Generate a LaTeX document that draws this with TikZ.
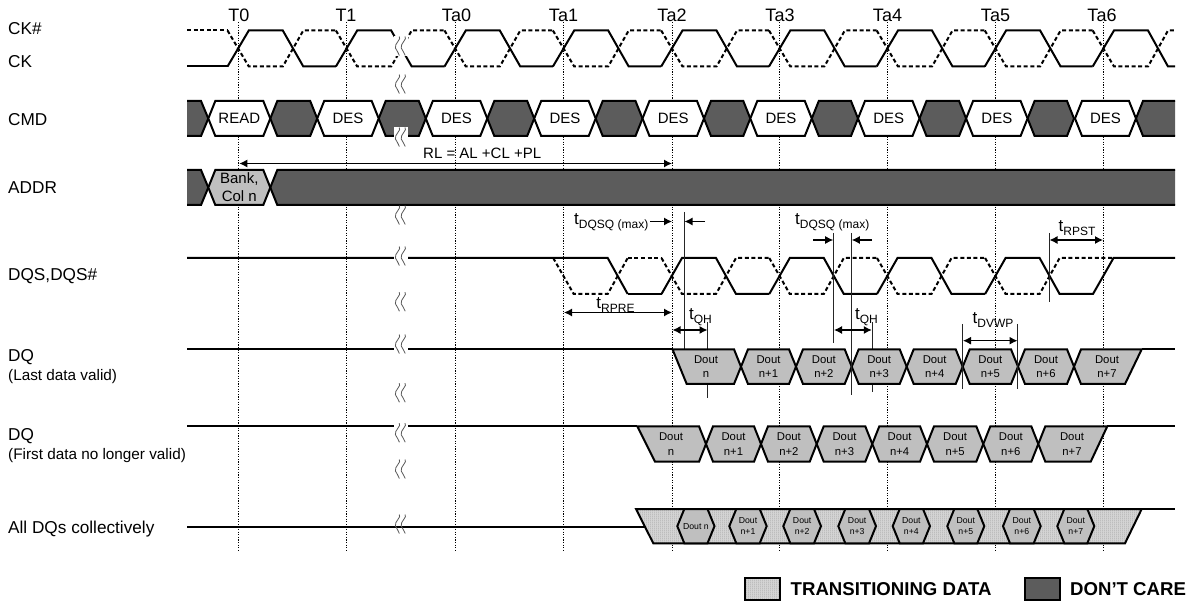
\documentclass[tikz,border=0pt]{standalone}
\usepackage{fontspec}
\setmainfont{Liberation Sans}
\usetikzlibrary{arrows.meta,patterns}
\pgfdeclarepatternformonly{fineV}{\pgfqpoint{0pt}{0pt}}{\pgfqpoint{2pt}{2pt}}{\pgfqpoint{2pt}{2pt}}{%
  \pgfsetlinewidth{0.8pt}\pgfpathmoveto{\pgfqpoint{1pt}{0pt}}\pgfpathlineto{\pgfqpoint{1pt}{2pt}}\pgfusepath{stroke}}
\definecolor{doutgray}{HTML}{BFBFBF}
\definecolor{dcgray}{HTML}{5C5C5C}
\tikzset{
  sig/.style={line width=2pt,line join=miter,draw=black},
  dashsig/.style={sig,dash pattern=on 4pt off 2.6pt},
  gridline/.style={line width=1pt,dash pattern=on 1.3pt off 1.3pt,draw=black},
  dontcare/.style={sig,fill=dcgray},
  transit/.style={sig,preaction={fill=black!17},pattern=fineV,pattern color=black!30},
  whitebox/.style={sig,fill=white},
  graybox/.style={sig,fill=doutgray},
  marker/.style={line width=1pt,draw=black!85},
  dim/.style={line width=1.2pt,draw=black,-{Latex[length=8pt,width=8pt]}},
  dimboth/.style={line width=1.2pt,draw=black,{Latex[length=8pt,width=8pt]}-{Latex[length=8pt,width=8pt]}},
  lbl/.style={anchor=west,inner sep=0pt,font=\fontsize{17.2}{19}\selectfont},
  sublbl/.style={anchor=west,inner sep=0pt,font=\fontsize{15.3}{17}\selectfont},
  tlbl/.style={inner sep=0pt,font=\fontsize{18}{20}\selectfont},
  cmdlbl/.style={inner sep=0pt,font=\fontsize{15}{17}\selectfont},
  doutlbl/.style={inner sep=0pt,align=center,font=\fontsize{11.3}{14.6}\selectfont},
  smalllbl/.style={inner sep=0pt,align=center,font=\fontsize{8.7}{11.5}\selectfont},
  dimlbl/.style={inner sep=0pt},
  leglbl/.style={anchor=west,inner sep=0pt,font=\fontsize{18.6}{20}\selectfont\bfseries},
}
\newcommand{\tsb}[1]{{\fontsize{17}{19}\selectfont t}{\fontsize{12}{14}\selectfont\raisebox{-4.5pt}{#1}}}
% break mark: two wavy strokes centred on (x,y)
\newcommand{\brkmark}[2]{%
  \foreach \dd in {-2.9,2.9}{
    \draw[line width=0.8pt,draw=black!65] (#1+\dd+1.4,#2-9.5) .. controls (#1+\dd+4.2,#2-7) and (#1+\dd-3.6,#2-2.5) .. (#1+\dd-2.4,#2+2)
      .. controls (#1+\dd-1.8,#2+5) and (#1+\dd+1.2,#2+6) .. (#1+\dd+1.6,#2+9.5);
  }}
% white gap plus a break mark
\newcommand{\brkgap}[2]{\fill[white] (394,#2-10) rectangle (408,#2+10); \brkmark{#1}{#2}}
% hexagon between crossing points #2,#3 ; rows #4 #5
\newcommand{\hexa}[7]{%
  \path[#1] ({#2},{(#4+#5)/2}) -- ({#2+7},#4) -- ({#3-7},#4) -- ({#3},{(#4+#5)/2}) -- ({#3-7},#5) -- ({#2+7},#5) -- cycle;
  \node[#6] (#7) at ({(#2+#3)/2},{(#4+#5)/2}) }
\begin{document}
\begin{tikzpicture}[x=1pt,y=-1pt]
\useasboundingbox (0,0) rectangle (1192,601);
\def\tgrid{238.3/T0/239,346.7/T1/346,455.3/Ta0/456.5,563.7/Ta1/563.5,672/Ta2/672,779.8/Ta3/780,887.5/Ta4/887.5,995.6/Ta5/995.5,1103.5/Ta6/1102}
% grid lines and clock labels
\foreach \gx/\gt/\lx [count=\gi] in \tgrid {
  \coordinate (gtop\gi) at (\gx,22);
  \coordinate (gbot\gi) at (\gx,551);
  \draw[gridline] (gtop\gi) -- (gbot\gi);
  \node[tlbl] (clk\gi) at (\lx,15) {\gt};
}
% signal names
\node[lbl] (nCKb) at (8,28.5) {CK\#};
\node[lbl] (nCK) at (8,62) {CK};
\node[lbl] (nCMD) at (8,120) {CMD};
\node[lbl] (nADDR) at (8,188) {ADDR};
\node[lbl] (nDQS) at (8,276) {DQS,DQS\#};
\node[lbl] (nDQa) at (8,357) {DQ};
\node[sublbl] (nDQas) at (8,377) {(Last data valid)};
\node[lbl] (nDQb) at (8,436) {DQ};
\node[sublbl] (nDQbs) at (8,456) {(First data no longer valid)};
\node[lbl] (nAll) at (8,529) {All DQs collectively};
% CK and CK#
\draw[sig] (187,66.5) -- (227.5,66.5);
\draw[dashsig] (187,30.5) -- (227.5,30.5);
\foreach \ta/\tb in {238.3/346.7,346.7/455.3,455.3/563.7,563.7/672,672/779.8,779.8/887.5,887.5/995.6,995.6/1103.5}{
  \draw[sig] (\ta-10.8,66.5) -- (\ta+10.5,30.5) -- (\ta+44.5,30.5) -- (\ta+65,66.5) -- (\tb-10.8,66.5);
  \draw[dashsig] (\ta-10.8,30.5) -- (\ta+10.5,66.5) -- (\ta+44.5,66.5) -- (\ta+65,30.5) -- (\tb-10.8,30.5);
}
\draw[sig] (1092.7,66.5) -- (1114,30.5) -- (1148,30.5) -- (1168,66.5) -- (1175,66.5);
\draw[dashsig] (1092.7,30.5) -- (1114,66.5) -- (1148,66.5) -- (1168,30.5) -- (1175,30.5);
% CMD
\path[dontcare] (187,101) -- (201,101) -- (208.3,118.5) -- (201,136) -- (187,136);
\foreach \tp/\ta in {238.3/346.7,346.7/455.3,455.3/563.7,563.7/672,672/779.8,779.8/887.5,887.5/995.6,995.6/1103.5}{
  \path[dontcare] (\tp+32,118.5) -- (\tp+39,101) -- (\ta-36.5,101) -- (\ta-29.5,118.5) -- (\ta-36.5,136) -- (\tp+39,136) -- cycle;
}
\path[dontcare] (1175,101) -- (1143,101) -- (1136,118.5) -- (1143,136) -- (1175,136);
\hexa{whitebox}{208.3}{270.3}{101}{136}{cmdlbl}{cRead} {READ};
\hexa{whitebox}{317.2}{378.7}{101}{136}{cmdlbl}{cDesA} {DES};
\hexa{whitebox}{425.8}{487.3}{101}{136}{cmdlbl}{cDesB} {DES};
\hexa{whitebox}{534.2}{595.7}{101}{136}{cmdlbl}{cDesC} {DES};
\hexa{whitebox}{642.5}{704}{101}{136}{cmdlbl}{cDesD} {DES};
\hexa{whitebox}{750.3}{811.8}{101}{136}{cmdlbl}{cDesE} {DES};
\hexa{whitebox}{858}{919.5}{101}{136}{cmdlbl}{cDesF} {DES};
\hexa{whitebox}{966.1}{1027.6}{101}{136}{cmdlbl}{cDesG} {DES};
\hexa{whitebox}{1075}{1136}{101}{136}{cmdlbl}{cDesH} {DES};
% ADDR
\path[dontcare] (187,170) -- (201,170) -- (208.3,187.5) -- (201,205) -- (187,205);
\path[dontcare] (1175,170) -- (277.3,170) -- (270.3,187.5) -- (277.3,205) -- (1175,205);
\hexa{graybox}{208.3}{270.3}{170}{205}{inner sep=0pt,align=center,font=\fontsize{15}{18}\selectfont}{aBank} {Bank,\\Col n};
% RL
\coordinate (rlL) at (239.3,163.5);
\coordinate (rlR) at (672,163.5);
\draw[dimboth] (rlL) -- (rlR);
\node[cmdlbl,anchor=west] (rlT) at (423,153) {RL = AL +CL +PL};
% DQS
\draw[sig] (187,258) -- (607.7,258) -- (627.7,294);
\draw[dashsig] (553.2,258) -- (573.7,294) -- (607.7,294) -- (627.7,258);
\foreach \ta/\tb in {672/779.8,779.8/887.5,887.5/995.6}{
  \draw[sig] (\ta-10.5,294) -- (\ta+10,258) -- (\ta+44,258) -- (\ta+64,294) -- (\tb-10.5,294);
  \draw[dashsig] (\ta-10.5,258) -- (\ta+10,294) -- (\ta+44,294) -- (\ta+64,258) -- (\tb-10.5,258);
}
\draw[sig] (627.7,294) -- (661.5,294);
\draw[dashsig] (627.7,258) -- (661.5,258);
\draw[sig] (985.1,294) -- (1005.6,258) -- (1039.6,258) -- (1059.6,294) -- (1093,294) -- (1113.5,258) -- (1175,258);
\draw[dashsig] (985.1,258) -- (1005.6,294) -- (1039.6,294) -- (1059.6,258) -- (1113.5,258);
% timing markers behind the data
\coordinate (mAt) at (684,212); \coordinate (mAb) at (684,349);
\coordinate (mBt) at (833.7,233); \coordinate (mBb) at (833.7,343);
\coordinate (mCt) at (851.3,233); \coordinate (mCb) at (851.3,395);
\coordinate (mDt) at (707.7,322); \coordinate (mDb) at (707.7,398);
\coordinate (mEt) at (872,322); \coordinate (mEb) at (872,392);
\coordinate (mGt) at (1049,233); \coordinate (mGb) at (1049,302);
\draw[marker] (mAt) -- (mAb);
\draw[marker] (mBt) -- (mBb);
\draw[marker] (mDt) -- (mDb);
\draw[marker] (mEt) -- (mEb);
\draw[marker] (mGt) -- (mGb);
% DQ last data valid
\draw[sig] (187,349.3) -- (672.5,349.3);
\draw[sig] (1141.7,349.3) -- (1175,349.3);
\path[graybox] (672.5,349.3) -- (734,349.3) -- (741,366.7) -- (734,384) -- (686.7,384) -- cycle;
\node[doutlbl] (qa0) at (706,366.7) {Dout\\n};
\hexa{graybox}{741}{796}{349.3}{384}{doutlbl}{qa1} {Dout\\n+1};
\hexa{graybox}{796}{851.7}{349.3}{384}{doutlbl}{qa2} {Dout\\n+2};
\hexa{graybox}{851.7}{906.7}{349.3}{384}{doutlbl}{qa3} {Dout\\n+3};
\hexa{graybox}{906.7}{962.7}{349.3}{384}{doutlbl}{qa4} {Dout\\n+4};
\hexa{graybox}{962.7}{1018}{349.3}{384}{doutlbl}{qa5} {Dout\\n+5};
\hexa{graybox}{1018}{1074}{349.3}{384}{doutlbl}{qa6} {Dout\\n+6};
\path[graybox] (1074,366.7) -- (1081,349.3) -- (1141.7,349.3) -- (1125,384) -- (1081,384) -- cycle;
\node[doutlbl] (qa7) at (1107,366.7) {Dout\\n+7};
% DQ first data no longer valid
\draw[sig] (187,426.3) -- (637.3,426.3);
\draw[sig] (1107.3,426.3) -- (1175,426.3);
\path[graybox] (637.3,426.3) -- (699,426.3) -- (706,444) -- (699,461.7) -- (655,461.7) -- cycle;
\node[doutlbl] (qb0) at (671,444) {Dout\\n};
\hexa{graybox}{706}{761}{426.3}{461.7}{doutlbl}{qb1} {Dout\\n+1};
\hexa{graybox}{761}{816.7}{426.3}{461.7}{doutlbl}{qb2} {Dout\\n+2};
\hexa{graybox}{816.7}{872.3}{426.3}{461.7}{doutlbl}{qb3} {Dout\\n+3};
\hexa{graybox}{872.3}{927}{426.3}{461.7}{doutlbl}{qb4} {Dout\\n+4};
\hexa{graybox}{927}{983.3}{426.3}{461.7}{doutlbl}{qb5} {Dout\\n+5};
\hexa{graybox}{983.3}{1038.3}{426.3}{461.7}{doutlbl}{qb6} {Dout\\n+6};
\path[graybox] (1038.3,444) -- (1045.3,426.3) -- (1107.3,426.3) -- (1090.7,461.7) -- (1045.3,461.7) -- cycle;
\node[doutlbl] (qb7) at (1072,444) {Dout\\n+7};
% All DQs
\draw[sig] (187,526.7) -- (645,526.7);
\draw[sig] (1141.7,509) -- (1175,509);
\path[transit] (636,509) -- (1141.7,509) -- (1125,543.3) -- (653.3,543.3) -- cycle;
\hexa{graybox}{677.3}{714.5}{509}{543.3}{smalllbl}{qc0} {Dout n};
\hexa{graybox}{729.3}{766.7}{509}{543.3}{smalllbl}{qc1} {Dout\\n+1};
\hexa{graybox}{783.3}{821}{509}{543.3}{smalllbl}{qc2} {Dout\\n+2};
\hexa{graybox}{838.3}{876}{509}{543.3}{smalllbl}{qc3} {Dout\\n+3};
\hexa{graybox}{892.7}{930}{509}{543.3}{smalllbl}{qc4} {Dout\\n+4};
\hexa{graybox}{947.3}{984.3}{509}{543.3}{smalllbl}{qc5} {Dout\\n+5};
\hexa{graybox}{1003}{1040.7}{509}{543.3}{smalllbl}{qc6} {Dout\\n+6};
\hexa{graybox}{1057.3}{1094.3}{509}{543.3}{smalllbl}{qc7} {Dout\\n+7};
% markers over the data
\draw[marker] (mCt) -- (mCb);
\coordinate (mFat) at (962.7,324); \coordinate (mFab) at (962.7,389);
\coordinate (mFbt) at (1017.7,324); \coordinate (mFbb) at (1017.7,389);
\draw[marker] (mFat) -- (mFab);
\draw[marker] (mFbt) -- (mFbb);
% timing arrows
\coordinate (aA1) at (650,221.5); \coordinate (aA2) at (672,221.5);
\coordinate (aA3) at (705,221.5); \coordinate (aA4) at (684.5,221.5);
\draw[dim] (aA1) -- (aA2);
\draw[dim] (aA3) -- (aA4);
\node[dimlbl,anchor=west] (tdqsqA) at (574,222) {\tsb{DQSQ (max)}};
\coordinate (aB1) at (813,240); \coordinate (aB2) at (833.2,240);
\coordinate (aB3) at (872,240); \coordinate (aB4) at (851.8,240);
\draw[dim] (aB1) -- (aB2);
\draw[dim] (aB3) -- (aB4);
\node[dimlbl,anchor=west] (tdqsqB) at (795,222) {\tsb{DQSQ (max)}};
\coordinate (aC1) at (564,312.5); \coordinate (aC2) at (672,312.5);
\draw[dimboth] (aC1) -- (aC2);
\node[dimlbl] (trpre) at (615.5,305) {\tsb{RPRE}};
\coordinate (aD1) at (672.5,330); \coordinate (aD2) at (707.5,330);
\draw[dimboth] (aD1) -- (aD2);
\node[dimlbl] (tqhA) at (700.5,317) {\tsb{QH}};
\coordinate (aE1) at (834,330); \coordinate (aE2) at (871.8,330);
\draw[dimboth] (aE1) -- (aE2);
\node[dimlbl] (tqhB) at (866.5,317) {\tsb{QH}};
\coordinate (aF1) at (963,340.7); \coordinate (aF2) at (1017.5,340.7);
\draw[dimboth] (aF1) -- (aF2);
\node[dimlbl] (tdvwp) at (993,320) {\tsb{DVWP}};
\coordinate (aG1) at (1049.5,240); \coordinate (aG2) at (1103,240);
\draw[dimboth] (aG1) -- (aG2);
\node[dimlbl] (trpst) at (1077,228) {\tsb{RPST}};
% breaks
\brkgap{400.7}{46}
\brkmark{400.7}{84}
\brkgap{400.7}{137}
\brkmark{400.7}{215}
\brkgap{400.7}{256}
\brkmark{400.7}{301.7}
\brkgap{400.7}{344}
\brkmark{400.7}{392.7}
\brkgap{400.7}{432.7}
\brkmark{400.7}{469}
\brkmark{400.7}{524}
% legend
\path[transit] (745,577.5) rectangle (779.5,600);
\node[leglbl] (legT) at (790.5,589) {TRANSITIONING DATA};
\path[dontcare] (1025,577.5) rectangle (1060,600);
\node[leglbl] (legD) at (1070,589) {DON'T CARE};
\end{tikzpicture}
\end{document}
